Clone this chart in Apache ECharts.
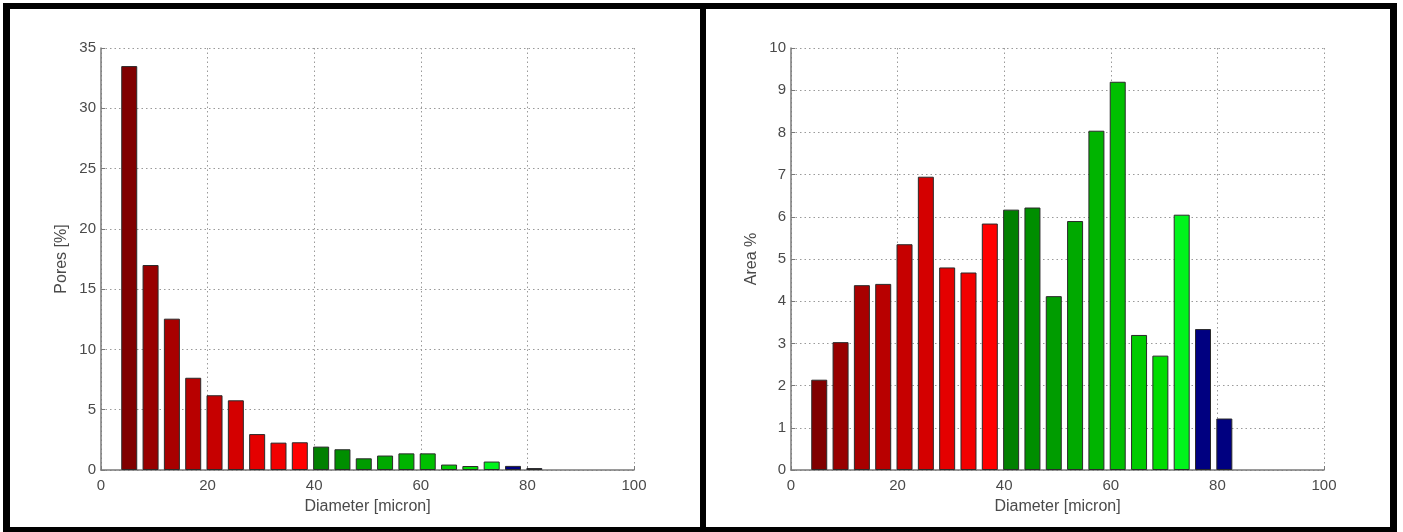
<!DOCTYPE html>
<html>
<head>
<meta charset="utf-8">
<script src="https://cdn.jsdelivr.net/npm/echarts@6/dist/echarts.min.js"></script>
<style>
html,body{margin:0;padding:0;background:#fff;}
#c{width:1403px;height:532px;}
</style>
</head>
<body>
<div id="c"></div>
<script>
// Bin centres (Diameter, micron)
const diameters = [5.3, 9.3, 13.3, 17.3, 21.3, 25.3, 29.3, 33.3, 37.3, 41.3, 45.3, 49.3, 53.3, 57.3, 61.3, 65.3, 69.3, 73.3, 77.3, 81.3];
// Left panel: Pores [%]
const poresPct = [33.5, 17.0, 12.55, 7.65, 6.2, 5.78, 2.98, 2.27, 2.3, 1.94, 1.72, 0.97, 1.2, 1.38, 1.38, 0.45, 0.33, 0.7, 0.34, 0.16];
// Right panel: Area %
const areaPct = [2.14, 3.03, 4.38, 4.41, 5.35, 6.95, 4.8, 4.68, 5.84, 6.17, 6.22, 4.12, 5.9, 8.04, 9.2, 3.2, 2.71, 6.05, 3.34, 1.22];
const xTicks = [0, 20, 40, 60, 80, 100];
const leftYTicks = [0, 5, 10, 15, 20, 25, 30, 35];
const rightYTicks = [0, 1, 2, 3, 4, 5, 6, 7, 8, 9, 10];

// bar colours (style, separate from the data)
const palette = ['#800000','#980000','#a80000','#b80000','#c60000','#d40000','#e40000','#f20000','#ff0000',
  '#008000','#008e00','#009c00','#00a900','#00b400','#00c000','#00cc00','#00dc00','#00f41c',
  '#000080','#000080'];

const chart = echarts.init(document.getElementById('c'), null, {renderer:'canvas'});
const fontFam = '"Liberation Sans", Arial, sans-serif';
const labelColor = '#4a4a4a';

function xAxis(gi){
  return {
    type:'value', gridIndex:gi, min:xTicks[0], max:xTicks[xTicks.length-1], interval:20,
    name:'Diameter [micron]', nameLocation:'middle', nameGap:29,
    nameTextStyle:{color:labelColor, fontSize:16, fontFamily:fontFam},
    axisLine:{show:true, onZero:false, lineStyle:{color:'#7a7a7a', width:1.5}},
    axisTick:{show:true, inside:true, length:4, lineStyle:{color:'#7a7a7a'}},
    axisLabel:{color:labelColor, fontSize:15, fontFamily:fontFam, margin:8},
    splitLine:{show:true, lineStyle:{color:'#9a9a9a', type:[1.5,3], width:1}}
  };
}
function yAxis(gi, ticks, name){
  return {
    type:'value', gridIndex:gi, min:ticks[0], max:ticks[ticks.length-1], interval:ticks[1]-ticks[0],
    name:name, nameLocation:'middle', nameGap:31,
    nameTextStyle:{color:labelColor, fontSize:16, fontFamily:fontFam},
    axisLine:{show:true, lineStyle:{color:'#7a7a7a', width:1.5}},
    axisTick:{show:true, inside:true, length:4, lineStyle:{color:'#7a7a7a'}},
    axisLabel:{color:labelColor, fontSize:15, fontFamily:fontFam, margin:5},
    splitLine:{show:true, lineStyle:{color:'#9a9a9a', type:[1.5,3], width:1}}
  };
}
function barData(vals){
  return diameters.map((d,i)=>({value:[d, vals[i]], itemStyle:{color:palette[i]}}));
}

const frame = [
  [3,3,1394,6],   // top
  [3,3,7,529],    // left
  [700,3,6,529],  // separator
  [1390,3,7,529], // right
  [3,527,1394,5]  // bottom
];

chart.setOption({
  animation:false,
  backgroundColor:'#ffffff',
  grid:[
    {left:101, top:48, width:533, height:422},
    {left:791, top:48, width:533, height:422}
  ],
  xAxis:[xAxis(0), xAxis(1)],
  yAxis:[yAxis(0, leftYTicks, 'Pores [%]'), yAxis(1, rightYTicks, 'Area %')],
  series:[
    {type:'bar', xAxisIndex:0, yAxisIndex:0, barWidth:16, data:barData(poresPct),
     itemStyle:{borderColor:'#2a2a2a', borderWidth:1}},
    {type:'bar', xAxisIndex:1, yAxisIndex:1, barWidth:16, data:barData(areaPct),
     itemStyle:{borderColor:'#2a2a2a', borderWidth:1}}
  ],
  graphic: frame.map(r=>({type:'rect', shape:{x:r[0], y:r[1], width:r[2], height:r[3]}, style:{fill:'#000'}, z:100}))
});
</script>
</body>
</html>
